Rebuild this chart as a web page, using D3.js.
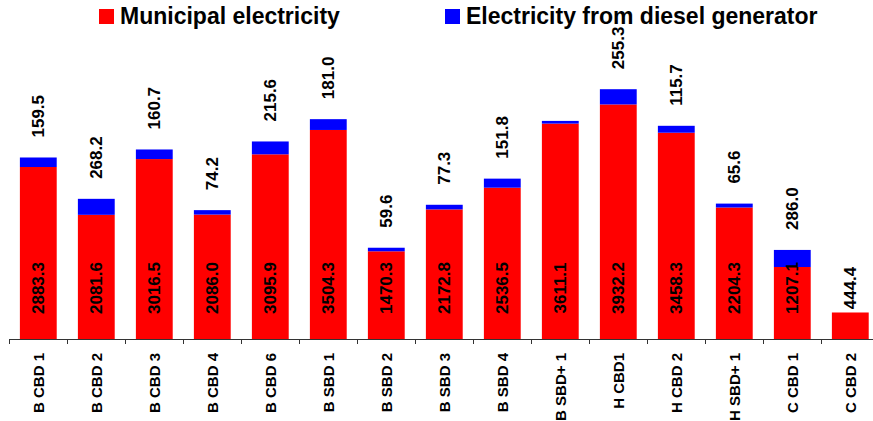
<!DOCTYPE html>
<html>
<head>
<meta charset="utf-8">
<script src="https://cdn.jsdelivr.net/npm/d3@7"></script>
<style>
  html, body { margin: 0; padding: 0; background: #fff; }
  svg { display: block; font-family: "Liberation Sans", Arial, sans-serif; }
</style>
</head>
<body>
<svg id="chart" width="873" height="421"></svg>
<script>
// Sites (x axis)
const categories = ["B CBD 1", "B CBD 2", "B CBD 3", "B CBD 4", "B CBD 6", "B SBD 1", "B SBD 2",
  "B SBD 3", "B SBD 4", "B SBD+ 1", "H CBD1", "H CBD 2", "H SBD+ 1", "C CBD 1", "C CBD 2"];
// Electricity from the municipal grid
const municipal = [2883.3, 2081.6, 3016.5, 2086.0, 3095.9, 3504.3, 1470.3, 2172.8, 2536.5,
  3611.1, 3932.2, 3458.3, 2204.3, 1207.1, 444.4];
// Electricity from the diesel generator (stacked on top)
const diesel = [159.5, 268.2, 160.7, 74.2, 215.6, 181.0, 59.6, 77.3, 151.8,
  45, 255.3, 115.7, 65.6, 286.0, 0];
// Which diesel values carry a printed label
const dieselLabelled = [true, true, true, true, true, true, true, true, true,
  false, true, true, true, true, false];
const seriesNames = ["Municipal electricity", "Electricity from diesel generator"];
const seriesColors = ["#ff0000", "#0000ff"];

const svg = d3.select("#chart");
const baseY = 339;

const x = d3.scaleBand()
  .domain(categories)
  .range([9.3, 879.3])
  .paddingInner(0.365)
  .paddingOuter(0.1825);

const y = d3.scaleLinear()
  .domain([0, 5683])
  .range([baseY, 0]);

const fmt = d3.format(".1f");

const rows = categories.map((c, i) => ({ cat: c, m: municipal[i], d: diesel[i], lab: dieselLabelled[i] }));

// Municipal bars
svg.append("g").selectAll("rect")
  .data(rows).join("rect")
  .attr("x", d => x(d.cat))
  .attr("width", x.bandwidth())
  .attr("y", d => y(d.m))
  .attr("height", d => y(0) - y(d.m))
  .attr("fill", seriesColors[0]);

// Diesel bars stacked on top
svg.append("g").selectAll("rect")
  .data(rows.filter(d => d.d > 0)).join("rect")
  .attr("x", d => x(d.cat))
  .attr("width", x.bandwidth())
  .attr("y", d => y(d.m + d.d))
  .attr("height", d => y(d.m) - y(d.m + d.d))
  .attr("fill", seriesColors[1]);

// X axis: baseline with ticks at band boundaries
const axis = svg.append("g");
const step = x.step();
const x0 = x.range()[0];
axis.append("line")
  .attr("x1", x0).attr("x2", 873)
  .attr("y1", baseY + 0.5).attr("y2", baseY + 0.5)
  .attr("stroke", "#333").attr("stroke-width", 1);
axis.selectAll("line.tick")
  .data(d3.range(categories.length + 1)).join("line")
  .attr("class", "tick")
  .attr("x1", i => Math.round(x0 + i * step) + 0.5)
  .attr("x2", i => Math.round(x0 + i * step) + 0.5)
  .attr("y1", baseY).attr("y2", baseY + 5)
  .attr("stroke", "#333").attr("stroke-width", 1);

// Category labels, rotated
svg.append("g").selectAll("text")
  .data(categories).join("text")
  .attr("transform", c => `translate(${x(c) + x.bandwidth() / 2 + 5.5},353) rotate(-90)`)
  .attr("text-anchor", "end")
  .attr("font-size", 15)
  .attr("font-weight", "bold")
  .attr("fill", "#000")
  .text(c => c);

// Municipal values inside the bars
svg.append("g").selectAll("text")
  .data(rows).join("text")
  .attr("transform", d => `translate(${x(d.cat) + x.bandwidth() / 2 + 6},${baseY - 51}) rotate(-90)`)
  .attr("text-anchor", "middle")
  .attr("font-size", 17)
  .attr("font-weight", "bold")
  .attr("fill", "#000")
  .text(d => fmt(d.m));

// Diesel values above the bars
svg.append("g").selectAll("text")
  .data(rows.filter(d => d.lab)).join("text")
  .attr("transform", d => `translate(${x(d.cat) + x.bandwidth() / 2 + 6},${y(d.m + d.d) - 20}) rotate(-90)`)
  .attr("text-anchor", "start")
  .attr("font-size", 17)
  .attr("font-weight", "bold")
  .attr("fill", "#000")
  .text(d => fmt(d.d));

// Legend
const legendX = [99, 445];
const legend = svg.append("g").selectAll("g")
  .data(seriesNames).join("g")
  .attr("transform", (s, i) => `translate(${legendX[i]},9)`);
legend.append("rect")
  .attr("width", 15).attr("height", 15)
  .attr("fill", (s, i) => seriesColors[i]);
legend.append("text")
  .attr("x", 21).attr("y", 15)
  .attr("font-size", 23)
  .attr("font-weight", "bold")
  .attr("fill", "#000")
  .text(s => s);
</script>
</body>
</html>
